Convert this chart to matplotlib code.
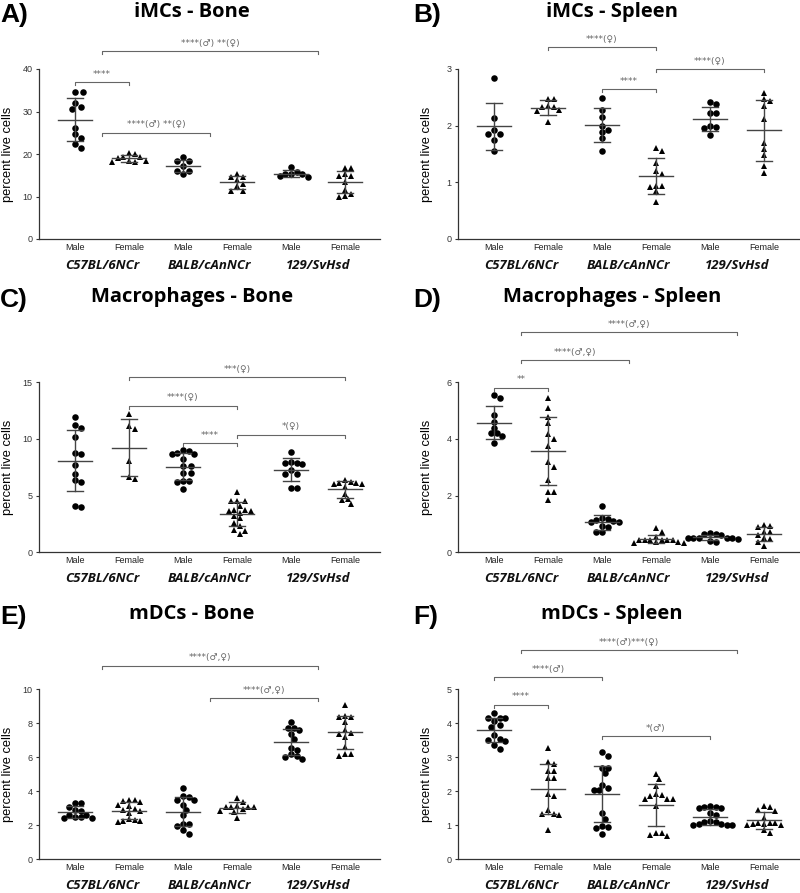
import numpy as np
import matplotlib
matplotlib.use('Agg')
import matplotlib.pyplot as plt

# group order: C57 male, C57 female, BALB male, BALB female, 129 male, 129 female
sexes = ['Male', 'Female', 'Male', 'Female', 'Male', 'Female']
strains = ['C57BL/6NCr', 'BALB/cAnNCr', '129/SvHsd']

imcs_bone = [
    [34.5, 34.5, 31.9, 31.0, 30.7, 26.2, 24.8, 23.7, 22.4, 21.3],
    [20.3, 20.1, 19.3, 19.2, 19.1, 18.4, 18.1, 18.1, 18.4],
    [19.2, 18.4, 18.4, 17.1, 16.0, 16.0, 15.3],
    [15.2, 14.7, 14.6, 13.8, 13.0, 12.4, 11.4, 11.3],
    [16.9, 15.3, 15.2, 14.5, 14.9, 15.2, 15.8],
    [16.8, 16.8, 15.3, 14.9, 14.9, 13.3, 11.5, 10.7, 10.1, 9.9],
]
imcs_spleen = [
    [2.85, 2.14, 1.92, 1.86, 1.86, 1.75, 1.55],
    [2.47, 2.47, 2.34, 2.33, 2.33, 2.27, 2.26, 2.06],
    [2.49, 2.28, 2.16, 2.0, 1.92, 1.89, 1.78, 1.56],
    [1.56, 1.6, 1.35, 1.2, 1.15, 0.94, 0.91, 0.94, 0.84, 0.66],
    [2.41, 2.38, 2.22, 2.22, 1.98, 1.96, 1.99, 1.84],
    [2.57, 2.44, 2.47, 2.35, 2.11, 1.69, 1.59, 1.48, 1.28, 1.17],
]
macro_bone = [
    [11.94, 10.96, 11.26, 10.17, 8.69, 8.78, 7.69, 6.9, 6.4, 6.16, 3.98, 4.1],
    [12.23, 10.85, 11.17, 8.08, 6.48, 6.63],
    [9.0, 8.8, 8.7, 8.7, 8.9, 8.2, 7.6, 7.6, 7.0, 7.0, 6.25, 6.2, 6.3, 5.6],
    [5.3, 4.55, 4.5, 4.55, 4.1, 3.75, 3.7, 3.65, 3.65, 3.5, 3.2, 3.0, 2.6, 2.3, 1.95, 1.9, 1.6],
    [8.85, 8.0, 7.9, 7.8, 7.85, 7.3, 6.9, 6.9, 5.7, 5.7],
    [6.34, 6.1, 6.07, 6.07, 6.1, 6.22, 5.72, 5.16, 4.69, 4.63, 4.24],
]
macro_spleen = [
    [5.45, 5.56, 4.86, 4.59, 4.39, 4.21, 4.2, 4.11, 3.85],
    [5.45, 5.09, 4.76, 4.56, 4.17, 4.0, 3.74, 3.17, 3.02, 2.56, 2.12, 2.12, 1.84],
    [1.63, 1.16, 1.11, 1.08, 1.08, 1.14, 1.2, 0.92, 0.9, 0.71, 0.71],
    [0.85, 0.73, 0.55, 0.45, 0.43, 0.42, 0.42, 0.44, 0.45, 0.35, 0.33, 0.33, 0.35],
    [0.67, 0.62, 0.64, 0.65, 0.52, 0.5, 0.5, 0.5, 0.48, 0.52, 0.4, 0.38],
    [0.93, 0.9, 0.97, 0.73, 0.73, 0.62, 0.5, 0.47, 0.38, 0.24],
]
mdc_bone = [
    [3.33, 3.3, 3.05, 2.9, 2.85, 2.62, 2.5, 2.42, 2.42, 2.48, 2.62],
    [3.5, 3.45, 3.4, 3.48, 3.2, 3.15, 2.9, 2.95, 2.75, 2.85, 2.4, 2.25, 2.2, 2.25, 2.3],
    [4.19, 3.7, 3.66, 3.5, 3.46, 3.2, 2.9, 2.6, 2.1, 2.05, 1.95, 1.73, 1.5],
    [3.6, 3.37, 3.12, 3.1, 3.1, 3.07, 3.05, 2.97, 2.85, 2.8, 2.42],
    [8.07, 7.75, 7.7, 7.62, 7.4, 7.1, 6.55, 6.45, 6.2, 6.1, 5.9, 6.0],
    [9.06, 8.43, 8.4, 8.39, 8.07, 7.6, 7.45, 7.35, 7.2, 6.6, 6.2, 6.1, 6.2],
]
mdc_spleen = [
    [4.17, 4.29, 4.17, 4.15, 4.06, 3.95, 3.9, 3.65, 3.55, 3.52, 3.49, 3.35, 3.25],
    [3.26, 2.86, 2.8, 2.6, 2.6, 2.4, 2.4, 1.93, 1.85, 1.46, 1.32, 1.3, 1.32, 0.87],
    [3.15, 3.05, 2.7, 2.7, 2.55, 2.2, 2.05, 2.05, 2.1, 1.35, 1.2, 0.98, 0.92, 0.95, 0.73],
    [2.5, 2.35, 2.15, 1.91, 1.88, 1.86, 1.78, 1.76, 1.78, 1.57, 0.77, 0.69, 0.71, 0.77],
    [1.57, 1.55, 1.53, 1.52, 1.5, 1.35, 1.3, 1.13, 1.1, 1.05, 1.02, 1.0, 1.0, 1.05, 1.1],
    [1.57, 1.55, 1.45, 1.42, 1.22, 1.08, 1.06, 1.03, 1.0, 1.0, 1.05, 1.08, 0.87, 0.76],
]

# significance brackets: (from, to, height, label)
M, F = '\u2642', '\u2640'
brackets_a = [(0, 1, 36.9, '****'), (0.5, 2.5, 25.0, '****(%s) **(%s)' % (M, F)),
              (0.5, 4.5, 44.2, '****(%s) **(%s)' % (M, F))]
brackets_b = [(1, 3, 3.38, '****(%s)' % F), (2, 3, 2.64, '****'), (3, 5, 3.0, '****(%s)' % F)]
brackets_c = [(1, 5, 15.47, '***(%s)' % F), (1, 3, 12.93, '****(%s)' % F),
              (2, 3, 9.64, '****'), (3, 5, 10.37, '*(%s)' % F)]
brackets_d = [(0.5, 4.5, 7.77, '****(%s,%s)' % (M, F)), (0.5, 2.5, 6.78, '****(%s,%s)' % (M, F)),
              (0, 1, 5.81, '**')]
brackets_e = [(0.5, 4.5, 11.38, '****(%s,%s)' % (M, F)), (2.5, 4.5, 9.46, '****(%s,%s)' % (M, F))]
brackets_f = [(0.5, 4.5, 6.16, '****(%s)***(%s)' % (M, F)), (0, 2, 5.35, '****(%s)' % M),
              (0, 1, 4.54, '****'), (2, 4, 3.62, '*(%s)' % M)]

panels = [
    ('A)', 'iMCs - Bone', imcs_bone, [0, 10, 20, 30, 40], brackets_a),
    ('B)', 'iMCs - Spleen', imcs_spleen, [0, 1, 2, 3], brackets_b),
    ('C)', 'Macrophages - Bone', macro_bone, [0, 5, 10, 15], brackets_c),
    ('D)', 'Macrophages - Spleen', macro_spleen, [0, 2, 4, 6], brackets_d),
    ('E)', 'mDCs - Bone', mdc_bone, [0, 2, 4, 6, 8, 10], brackets_e),
    ('F)', 'mDCs - Spleen', mdc_spleen, [0, 1, 2, 3, 4, 5], brackets_f),
]

W, H = 800, 893
fig = plt.figure(figsize=(W / 100, H / 100), dpi=100)
ax_left = [39, 458]
ax_bottom = [239, 552.3, 859.3]
ax_w, ax_h = 341, 170
title_y = [12, 297, 614]

line_col = '#444444'
txt_col = '#666666'
small_font = ['Liberation Sans', 'DejaVu Sans']


def swarm_x(ax, x0, vals, diam):
    # simple beeswarm: spread points that would overlap
    placed = []
    xs = np.zeros(len(vals))
    inv = ax.transData.inverted()
    cands = [0.0]
    for j in range(1, 25):
        cands += [j * diam * 0.5, -j * diam * 0.5]
    for i in np.argsort(vals)[::-1]:
        px, py = ax.transData.transform((x0, vals[i]))
        for c in cands:
            if all((px + c - qx) ** 2 + (py - qy) ** 2 >= diam ** 2 for qx, qy in placed):
                break
        placed.append((px + c, py))
        xs[i] = inv.transform((px + c, py))[0]
    return xs


for k, (letter, title, groups, yticks, brackets) in enumerate(panels):
    col, row = k % 2, k // 2
    left = ax_left[col]
    bottom = ax_bottom[row]
    ax = fig.add_axes([left / W, 1 - bottom / H, ax_w / W, ax_h / H])
    ymax = yticks[-1]
    ax.set_xlim(-0.667, 5.65)
    ax.set_ylim(0, ymax)

    for spine in ['top', 'right']:
        ax.spines[spine].set_visible(False)
    for spine in ['left', 'bottom']:
        ax.spines[spine].set_color('#333333')
        ax.spines[spine].set_linewidth(0.9)

    ax.set_yticks(yticks)
    ax.set_xticks(range(6))
    ax.set_xticklabels(sexes, fontsize=6.5, family=small_font)
    ax.tick_params(axis='y', labelsize=6.5, length=2.5, width=0.8, pad=2, colors='#333333')
    ax.tick_params(axis='x', length=0, pad=3, colors='#222222')
    for t in ax.get_yticklabels():
        t.set_family(small_font)
    ax.set_ylabel('percent live cells', fontsize=9.3, family=small_font)
    ax.yaxis.set_label_coords(-0.072, 0.5)

    for g, vals in enumerate(groups):
        vals = np.array(vals)
        marker = 'o' if g % 2 == 0 else '^'
        ms = 4.7 if marker == 'o' else 4.2
        xs = swarm_x(ax, g, vals, 5.6)
        ax.plot(xs, vals, marker, color='black', ms=ms, mew=0, zorder=3, clip_on=False)
        m = vals.mean()
        sd = vals.std(ddof=1)
        ax.plot([g - 0.32, g + 0.32], [m, m], color=line_col, lw=1.0, zorder=4)
        ax.plot([g - 0.15, g + 0.15], [m + sd, m + sd], color=line_col, lw=1.0, zorder=4)
        ax.plot([g - 0.15, g + 0.15], [m - sd, m - sd], color=line_col, lw=1.0, zorder=4)
        ax.plot([g, g], [m - sd, m + sd], color=line_col, lw=1.0, zorder=4)

    for s, name in enumerate(strains):
        ax.annotate(name, xy=(2 * s + 0.5, 0), xycoords=('data', 'axes fraction'),
                    xytext=(0, -19), textcoords='offset points', ha='center', va='center',
                    fontsize=9.5, style='italic', weight='bold', family='Open Sans',
                    color='#111111')

    drop = ymax * 3.0 / ax_h
    for x1, x2, y, label in brackets:
        ax.plot([x1, x1, x2, x2], [y - drop, y, y, y - drop], color='#666666', lw=0.8,
                clip_on=False)
        ax.annotate(label, xy=((x1 + x2) / 2, y), xytext=(0, 2.5), textcoords='offset points',
                    ha='center', va='bottom', fontsize=6.5, color=txt_col, family='DejaVu Sans',
                    annotation_clip=False)

    title_x = 192 if col == 0 else 612
    fig.text(title_x / W, 1 - title_y[row] / H, title, ha='center', va='center',
             fontsize=14.5, weight='bold', family='Open Sans')
    letter_x = 0 if col == 0 else 413
    fig.text(letter_x / W, 1 - (title_y[row] + 3) / H, letter, ha='left', va='center',
             fontsize=19, weight='bold', family='Liberation Sans')

fig.savefig('out.png', dpi=100)
